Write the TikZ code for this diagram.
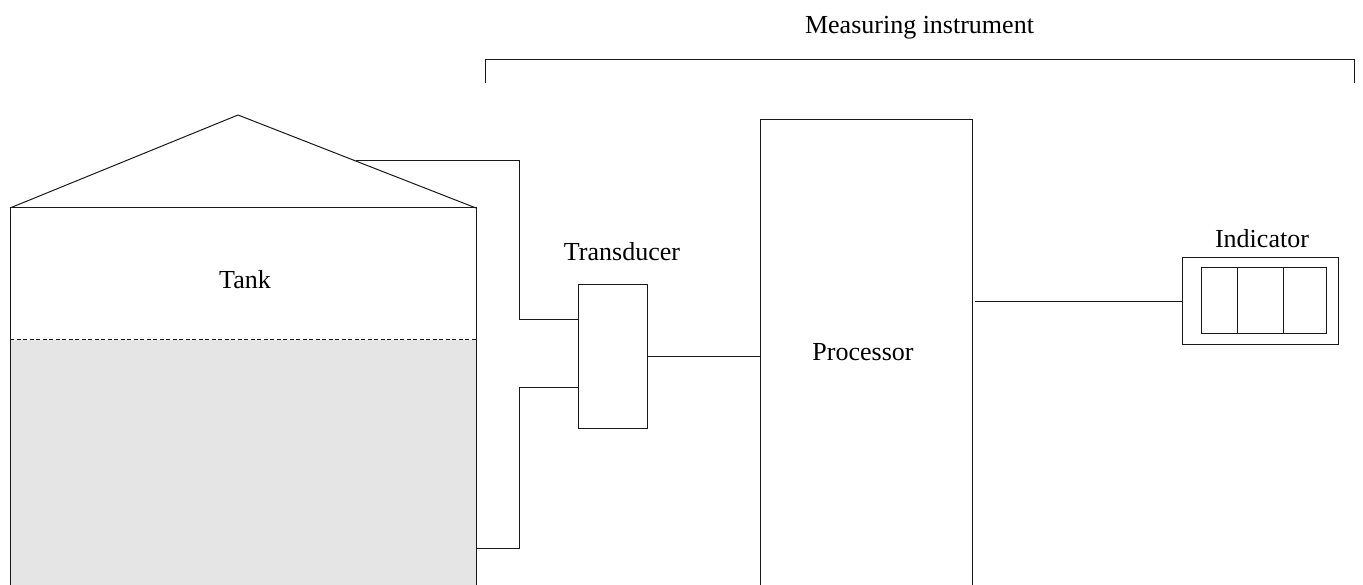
\documentclass[tikz,border=0pt]{standalone}
\usepackage{fontspec}
\setmainfont{Liberation Serif}
\begin{document}
\begin{tikzpicture}[x=1pt,y=-1pt,
  ln/.style={draw=black!90,line width=1pt},
  lbl/.style={font=\fontsize{26}{30}\selectfont,inner sep=0pt},
  boxnode/.style={ln,fill=white,inner sep=0pt,anchor=north west}]
\useasboundingbox (0,0) rectangle (1363,585);
% measuring instrument bracket
\coordinate (bl) at (485,83);
\coordinate (br) at (1354,83);
\draw[ln] (bl) -- (485,60) -- (1354,60) -- (br);
\node[lbl] (mi) at (919.5,28) {Measuring instrument};
% tank
\coordinate (apex) at (238,115);
\coordinate (tl) at (10,208);
\coordinate (tr) at (476,208);
\fill[black!10] (10,340) rectangle (476,600);
\draw[ln,dashed,dash pattern=on 4pt off 2.5pt] (10,340) -- (476,340);
\draw[ln] (10,600) -- (tl) -- (tr) -- (476,600);
\draw[ln] (tl) -- (apex) -- (tr);
\node[lbl] (tank) at (245,280) {Tank};
% transducer
\node[boxnode,minimum width=69pt,minimum height=144pt] (trans) at (578,284) {};
\node[lbl] (translbl) at (622,252) {Transducer};
% processor
\node[boxnode,minimum width=212pt,minimum height=481pt] (proc) at (760,119) {};
\node[lbl] (proclbl) at (863,352) {Processor};
% indicator
\node[boxnode,minimum width=156pt,minimum height=87pt] (ind) at (1182,257) {};
\node[boxnode,minimum width=125pt,minimum height=66pt] (disp) at (1201,267) {};
\draw[ln] (1237,267) -- (1237,333);
\draw[ln] (1283,267) -- (1283,333);
\node[lbl] (indlbl) at (1262,239) {Indicator};
% pipes
\coordinate (roofp) at (356,161);
\coordinate (sidep) at (476,548);
\draw[ln] (roofp) -- (519,161) -- (519,320) -- (trans.west |- 0,320);
\draw[ln] (sidep) -- (519,548) -- (519,387) -- (trans.west |- 0,387);
% signal lines
\draw[ln] (trans.east |- 0,356) -- (proc.west |- 0,356);
\draw[ln] (975,302) -- (ind.west |- 0,302);
\end{tikzpicture}
\end{document}
